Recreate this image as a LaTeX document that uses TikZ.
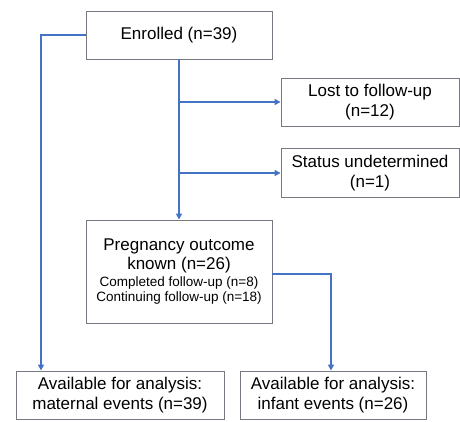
\documentclass[tikz,border=0pt]{standalone}
\usepackage{fontspec}
\setmainfont{Liberation Sans}
\usepackage{xcolor}
\usetikzlibrary{arrows.meta}
\usetikzlibrary{positioning}

\definecolor{flowblue}{RGB}{68,114,196}
\definecolor{boxgray}{RGB}{120,120,130}

\tikzset{
	box/.style={draw=boxgray,line width=0.9pt,fill=white,align=center,inner sep=2pt,font=\fontsize{17}{19.5}\selectfont},
	flow/.style={draw=flowblue,line width=1.8pt},
	flowarrow/.style={flow,-{Triangle[length=6pt,width=6pt]}}
}

\begin{document}
\begin{tikzpicture}[x=1pt,y=-1pt]
		\useasboundingbox (0,0) rectangle (460,421);
		%Boxes
			\node[box,minimum width=186pt,minimum height=48pt] (enrolled) at (179,35) {Enrolled (n=39)};
			\node[box,minimum width=178pt,minimum height=48pt] (lost) at (370,102) {Lost to follow-up\\(n=12)};
			\node[box,minimum width=178pt,minimum height=49pt] (status) at (370,173) {Status undetermined\\(n=1)};
			\node[box,minimum width=186pt,minimum height=103pt] (outcome) at (179,271.5)
				{Pregnancy outcome\\known (n=26)\\[-3pt]
				{\fontsize{13.5}{15}\selectfont Completed follow-up (n=8)}\\[-4pt]
				{\fontsize{13.5}{15}\selectfont Continuing follow-up (n=18)}};
			\node[box,minimum width=208pt,minimum height=48pt] (maternal) at (120,395) {Available for analysis:\\maternal events (n=39)};
			\node[box,minimum width=186pt,minimum height=48pt] (infant) at (333,395) {Available for analysis:\\infant events (n=26)};
		%Branch points
			\coordinate (lostsplit) at (enrolled.south |- lost.west);
			\coordinate (statussplit) at (enrolled.south |- status.west);
		%Main line
			\draw[flowarrow] (enrolled.south) -- (outcome.north);
			\draw[flowarrow] (lostsplit) -- (lost.west);
			\draw[flowarrow] (statussplit) -- (status.west);
		%Side lines
			\draw[flowarrow] (enrolled.west) -| (41,0 |- maternal.north);
			\draw[flowarrow] (outcome.east |- 0,274) -| (331,0 |- infant.north);
	\end{tikzpicture}
\end{document}
